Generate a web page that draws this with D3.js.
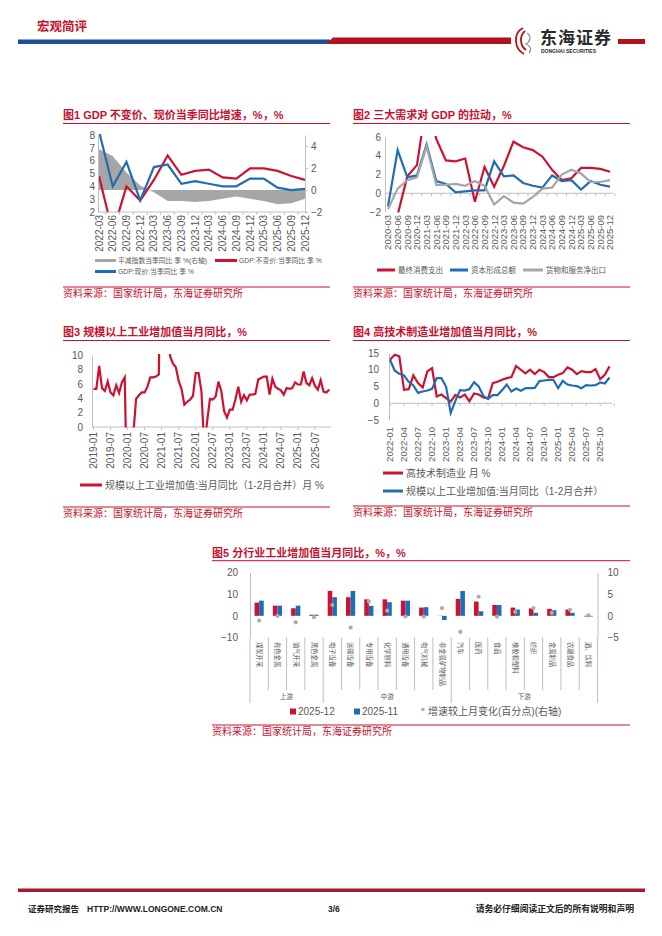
<!DOCTYPE html>
<html><head><meta charset="utf-8">
<script src="https://cdn.jsdelivr.net/npm/d3@7"></script>
<style>
body{margin:0;background:#fff;}
svg text{font-family:"Liberation Sans","Noto Sans CJK SC",Arial,sans-serif;}
</style></head><body>
<svg id="page" width="662" height="936"></svg>
<script>
// ---------------- DATA ----------------
const c1Quarters = ["2022-03","2022-06","2022-09","2022-12","2023-03","2023-06","2023-09","2023-12","2024-03","2024-06","2024-09","2024-12","2025-03","2025-06","2025-09","2025-12"];
const c1Deflator = [3.7, 3.1, 1.6, 0.4, -0.2, -1.0, -1.0, -1.1, -1.0, -0.8, -0.6, -0.8, -1.0, -1.3, -1.2, -0.8];
const c1Real     = [4.8, 0.4, 4.0, 2.9, 4.5, 6.4, 4.9, 5.2, 5.3, 4.7, 4.6, 5.4, 5.4, 5.2, 4.8, 4.5];
const c1Nominal  = [8.3, 4.0, 5.9, 2.9, 5.5, 5.7, 4.2, 4.4, 4.2, 4.0, 4.0, 4.6, 4.6, 3.9, 3.7, 3.8];
const c1LeftTicks = [2,3,4,5,6,7,8];
const c1RightTicks = [-2,0,2,4];

const c2Quarters = ["2020-03","2020-06","2020-09","2020-12","2021-03","2021-06","2021-09","2021-12","2022-03","2022-06","2022-09","2022-12","2023-03","2023-06","2023-09","2023-12","2024-03","2024-06","2024-09","2024-12","2025-03","2025-06","2025-09","2025-12"];
const c2Consumption = [-4.5, -2.3, 1.8, 3.0, 9.8, 5.8, 3.5, 3.4, 3.7, -0.9, 2.8, 0.7, 2.9, 5.5, 4.9, 4.6, 3.9, 2.5, 1.4, 1.6, 2.7, 2.7, 2.6, 2.3];
const c2Capital     = [-1.4, 4.6, 1.7, 1.9, 5.2, 1.3, 1.0, 0.1, 0.2, 0.3, 0.3, 3.4, 1.8, 1.9, 1.1, 0.8, 0.6, 1.9, 1.3, 1.4, 0.4, 1.3, 0.9, 0.7];
const c2NetExport   = [-1.7, 0.5, 1.4, 1.7, 5.0, 0.9, 0.9, 1.0, 0.8, 1.3, 0.8, -1.2, -0.3, -1.0, -1.1, -0.4, 0.5, 0.6, 2.0, 2.5, 2.1, 1.2, 1.2, 1.4];
const c2Ticks = [-2,0,2,4,6];

// monthly 2019-01 .. 2025-12
const c3Industry = [
  5.3, 5.3, 8.5, 5.4, 5.0, 6.3, 4.8, 4.4, 5.8, 4.7, 6.2, 6.9,
  -13.5, -13.5, -1.1, 3.9, 4.4, 4.8, 4.8, 5.6, 6.9, 6.9, 7.0, 7.3,
  35.1, 35.1, 14.1, 9.8, 8.8, 8.3, 6.4, 5.3, 3.1, 3.5, 3.8, 4.3,
  7.5, 7.5, 5.0, -2.9, 0.7, 3.9, 3.8, 4.2, 6.3, 5.0, 2.2, 1.3,
  2.4, 2.4, 3.9, 5.6, 3.5, 4.4, 3.7, 4.5, 4.5, 4.6, 6.6, 6.8,
  7.0, 7.0, 4.5, 6.7, 5.6, 5.3, 5.1, 4.5, 5.4, 5.3, 5.4, 6.2,
  5.9, 5.9, 7.7, 6.1, 5.8, 6.8, 5.7, 5.2, 6.5, 4.9, 4.8, 5.2];
const c3TickLabels = ["2019-01","2019-07","2020-01","2020-07","2021-01","2021-07","2022-01","2022-07","2023-01","2023-07","2024-01","2024-07","2025-01","2025-07"];
const c3Ticks = [0,2,4,6,8,10];

const c4TickLabels = ["2022-01","2022-04","2022-07","2022-10","2023-01","2023-04","2023-07","2023-10","2024-01","2024-04","2024-07","2024-10","2025-01","2025-04","2025-07","2025-10"];
const c4HighTech = [13, 14.5, 14, 4, 4.2, 8.3, 6, 4.7, 9.5, 10.5, 2, 2.6, 1.5, 0.5, 2.5, 1.7, 2.6, 0.6, 2.9, 2.6, 1.7, 1.4, 6, 6.4, 7, 7.5, 7.8, 11.1, 10, 8.9, 10, 8.7, 10, 9.3, 7.8, 7.8, 8.5, 9, 10.7, 10, 8.7, 9.6, 9.3, 9.3, 10.2, 7.2, 8.5, 11];
const c4Industry = [13, 9.8, 8.8, 8.3, 6.4, 5.3, 3.1, 3.5, 3.8, 4.3, 7.5, 7.5, 5.0, -2.9, 0.7, 3.9, 3.8, 4.2, 6.3, 5.0, 2.2, 1.3, 2.4, 2.4, 3.9, 5.6, 3.5, 4.4, 3.7, 4.5, 4.5, 4.6, 6.6, 6.8, 7.0, 7.0, 4.5, 6.7, 5.6, 5.3, 5.1, 4.5, 5.4, 5.3, 5.4, 6.2, 5.9, 7.7];
const c4Ticks = [-5,0,5,10,15];

const c5Industries = ["煤炭开采","有色金属","油气开采","黑色金属","电子设备","运输设备","专用设备","化学原料","通用设备","电气机械","非金属矿物制品","汽车","医药","食品","橡胶和塑料","纺织","金属制品","农副食品","酒、饮料"];
const c5Groups = [{name:"上游", from:0, to:3},{name:"中游", from:4, to:10},{name:"下游", from:11, to:18}];
const c5Dec = [6.1, 4.7, 3.5, 0.5, 11.5, 8.6, 7.6, 7.6, 7.0, 3.8, -0.1, 7.8, 6.6, 5.0, 3.8, 3.4, 3.2, 2.9, -0.3];
const c5Nov = [7.0, 4.7, 4.7, 0.5, 8.6, 11.5, 4.6, 6.3, 7.0, 4.0, -1.9, 11.5, 2.1, 5.0, 2.9, 1.4, 2.6, 1.4, -0.3];
const c5Change = [-1.1, 0.0, -1.5, -0.3, 2.5, -2.7, 3.3, 1.2, -0.15, -0.2, 1.8, -3.7, 4.4, -0.2, 0.9, 1.8, 0.7, 1.4, 0.1];
const c5LeftTicks = [-10,0,10,20];
const c5RightTicks = [-5,0,5,10];

// ---------------- STYLE ----------------
const TITLE_RED = "#C8102E";
const LINE_RED = "#CC1230";
const LINE_BLUE = "#1F6DB3";
const LINE_GRAY = "#A6A6A6";
const AXIS = "#BFBFBF";
const TXT = "#595959";
const SOURCE = "资料来源：国家统计局，东海证券研究所";
const fmt = d3.format("d");

const svg = d3.select("#page");
svg.append("rect").attr("width",662).attr("height",936).attr("fill","#fff");
const defs = svg.append("defs");

function addTitle(x, x2, yBase, yLine, txt){
  svg.append("text").attr("x",x).attr("y",yBase).attr("fill",TITLE_RED)
    .attr("font-size",11).attr("font-weight","bold").text(txt);
  svg.append("line").attr("x1",x).attr("x2",x2).attr("y1",yLine).attr("y2",yLine)
    .attr("stroke",TITLE_RED).attr("stroke-width",1);
}
function addSource(x, x2, yLine, yBase){
  svg.append("line").attr("x1",x).attr("x2",x2).attr("y1",yLine).attr("y2",yLine)
    .attr("stroke",TITLE_RED).attr("stroke-width",1);
  svg.append("text").attr("x",x).attr("y",yBase).attr("fill",TITLE_RED)
    .attr("font-size",10).text(SOURCE);
}
function styleAxis(sel, fs){
  sel.select(".domain").attr("stroke",AXIS);
  sel.selectAll(".tick line").attr("stroke",AXIS);
  sel.selectAll(".tick text").attr("fill",TXT).attr("font-size",fs||10)
    .attr("font-family",'"Liberation Sans",Arial,sans-serif');
}
function clip(id, x, y, w, h){
  defs.append("clipPath").attr("id",id).append("rect").attr("x",x).attr("y",y).attr("width",w).attr("height",h);
}
function legendLine(x1, x2, y, color, label, fs, tx){
  svg.append("line").attr("x1",x1).attr("x2",x2).attr("y1",y).attr("y2",y)
    .attr("stroke",color).attr("stroke-width",3);
  svg.append("text").attr("x",tx).attr("y",y).attr("dy","0.35em").attr("fill",TXT)
    .attr("font-size",fs).text(label);
}
function catTicks(g, positions, y, len){
  g.selectAll(null).data(positions).join("line")
    .attr("x1",d=>d).attr("x2",d=>d).attr("y1",y).attr("y2",y+len)
    .attr("stroke",AXIS);
}

// ---------------- HEADER ----------------
svg.append("text").attr("x",37).attr("y",31).attr("fill",TITLE_RED)
  .attr("font-size",12.5).attr("font-weight","bold").text("宏观简评");
svg.append("rect").attr("x",18).attr("y",39.5).attr("width",312).attr("height",4.5).attr("fill","#1D4F91");
svg.append("path").attr("d","M326,44 L333,37.5 L511,37.5 L511,44 Z").attr("fill","#B3121C");
svg.append("rect").attr("x",618).attr("y",39).attr("width",27).attr("height",5).attr("fill","#B3121C");
// logo
const logo = svg.append("g");
logo.append("path").attr("d","M523,28 C513,33 514,49 524,54 M525,31 C519,36 520,46 526,50")
  .attr("fill","none").attr("stroke","#B3121C").attr("stroke-width",1.8);
logo.append("path").attr("d","M527,33 C532,36 530,42 526,44 C531,46 532,50 529,53")
  .attr("fill","none").attr("stroke","#8C8C8C").attr("stroke-width",1.2);
logo.append("text").attr("x",540).attr("y",44).attr("font-size",17).attr("font-weight","bold")
  .attr("fill","#2B2B2B").attr("font-family",'"Noto Sans CJK SC",sans-serif').attr("letter-spacing",1).text("东海证券");
logo.append("text").attr("x",541).attr("y",52.5).attr("font-size",5).attr("font-weight","bold")
  .attr("fill","#2B2B2B").text("DONGHAI SECURITIES");

// ---------------- CHART 1 ----------------
addTitle(63, 330, 118.5, 123.5, "图1  GDP 不变价、现价当季同比增速，%，%");
{
  const x = d3.scalePoint().domain(c1Quarters).range([99,305]);
  const yL = d3.scaleLinear().domain([2,8]).range([212,135]);
  const yR = d3.scaleLinear().domain([-2,5]).range([212,135]);
  clip("clip1", 98, 134, 208, 78.5);
  const g = svg.append("g");
  const pl = g.append("g").attr("clip-path","url(#clip1)");
  pl.append("path").datum(c1Deflator)
    .attr("d", d3.area().x((d,i)=>x(c1Quarters[i])).y0(yR(0)).y1(d=>yR(d)))
    .attr("fill",LINE_GRAY);
  pl.append("path").datum(c1Real)
    .attr("d", d3.line().x((d,i)=>x(c1Quarters[i])).y(d=>yL(d)))
    .attr("fill","none").attr("stroke",LINE_RED).attr("stroke-width",2.2);
  pl.append("path").datum(c1Nominal)
    .attr("d", d3.line().x((d,i)=>x(c1Quarters[i])).y(d=>yL(d)))
    .attr("fill","none").attr("stroke",LINE_BLUE).attr("stroke-width",2.2);
  g.append("g").attr("transform","translate(98,0)")
    .call(d3.axisLeft(yL).tickValues(c1LeftTicks).tickFormat(fmt).tickSize(0).tickSizeOuter(0).tickPadding(3))
    .call(s=>styleAxis(s,10));
  g.append("g").attr("transform","translate(305,0)")
    .call(d3.axisRight(yR).tickValues(c1RightTicks).tickFormat(fmt).tickSize(3).tickSizeOuter(0).tickPadding(3))
    .call(s=>styleAxis(s,10));
  g.append("line").attr("x1",98).attr("x2",305).attr("y1",212).attr("y2",212).attr("stroke",AXIS);
  const step = x.step();
  catTicks(g, c1Quarters.slice(0,-1).map(q=>x(q)+step/2), 212, 3);
  g.selectAll(".xl").data(c1Quarters).join("text")
    .attr("transform", d=>`translate(${x(d)},215) rotate(-90)`)
    .attr("text-anchor","end").attr("dy","0.35em").attr("fill",TXT).attr("font-size",10).text(d=>d);
  legendLine(95,116,260.5,LINE_GRAY,"平减指数当季同比 季 %(右轴)",6.8,118);
  legendLine(215,237,260.5,LINE_RED,"GDP:不变价:当季同比 季 %",6.8,239);
  legendLine(95,116,271.5,LINE_BLUE,"GDP:现价:当季同比 季 %",6.8,118);
}
addSource(63, 330, 287, 297);

// ---------------- CHART 2 ----------------
addTitle(353, 630, 118.5, 123.5, "图2  三大需求对 GDP 的拉动，%");
{
  const x = d3.scalePoint().domain(c2Quarters).range([388,610]);
  const y = d3.scaleLinear().domain([-2,6]).range([212,137]);
  clip("clip2", 385, 136, 230, 76.5);
  const g = svg.append("g");
  g.append("g").attr("transform","translate(385,0)")
    .call(d3.axisLeft(y).tickValues(c2Ticks).tickFormat(fmt).tickSize(0).tickSizeOuter(0).tickPadding(4))
    .call(s=>styleAxis(s,10));
  g.append("line").attr("x1",385).attr("x2",613).attr("y1",y(0)).attr("y2",y(0)).attr("stroke",AXIS);
  const step = x.step();
  catTicks(g, c2Quarters.map(q=>x(q)+step/2), y(0), 3);
  const pl = g.append("g").attr("clip-path","url(#clip2)");
  [[c2Consumption,LINE_RED],[c2Capital,LINE_BLUE],[c2NetExport,LINE_GRAY]].forEach(([arr,col])=>{
    pl.append("path").datum(arr)
      .attr("d", d3.line().x((d,i)=>x(c2Quarters[i])).y(d=>y(d)))
      .attr("fill","none").attr("stroke",col).attr("stroke-width",2.2);
  });
  g.selectAll(".xl").data(c2Quarters).join("text")
    .attr("transform", d=>`translate(${x(d)},215) rotate(-90)`)
    .attr("text-anchor","end").attr("dy","0.35em").attr("fill",TXT).attr("font-size",9.5).text(d=>d);
  legendLine(377,395,270,LINE_RED,"最终消费支出",7.5,398);
  legendLine(450,468,270,LINE_BLUE,"资本形成总额",7.5,471);
  legendLine(523,543,270,LINE_GRAY,"货物和服务净出口",7.5,546);
}
addSource(353, 630, 287, 297);

// ---------------- CHART 3 ----------------
addTitle(63, 330, 335.5, 340.5, "图3  规模以上工业增加值当月同比，%");
{
  const x = d3.scaleLinear().domain([0, c3Industry.length-1]).range([93.5, 329.2]);
  const y = d3.scaleLinear().domain([0,10]).range([427,355]);
  clip("clip3", 92, 354, 240, 73.5);
  const g = svg.append("g");
  g.append("g").attr("transform","translate(92,0)")
    .call(d3.axisLeft(y).tickValues(c3Ticks).tickFormat(fmt).tickSize(0).tickSizeOuter(0).tickPadding(9))
    .call(s=>styleAxis(s,10));
  g.append("line").attr("x1",92).attr("x2",331).attr("y1",427).attr("y2",427).attr("stroke",AXIS);
  const tickIdx = c3TickLabels.map((d,i)=>i*6);
  catTicks(g, tickIdx.map(i=>x(i)), 427, 3);
  g.append("path").attr("clip-path","url(#clip3)").datum(c3Industry)
    .attr("d", d3.line().x((d,i)=>x(i)).y(d=>y(d)))
    .attr("fill","none").attr("stroke",LINE_RED).attr("stroke-width",2.2);
  g.selectAll(".xl").data(c3TickLabels).join("text")
    .attr("transform", (d,i)=>`translate(${x(tickIdx[i])},432) rotate(-90)`)
    .attr("text-anchor","end").attr("dy","0.35em").attr("fill",TXT).attr("font-size",10).text(d=>d);
  legendLine(80,102,485,LINE_RED,"规模以上工业增加值:当月同比（1-2月合并）月 %",10,105);
}
addSource(63, 330, 507, 517);

// ---------------- CHART 4 ----------------
addTitle(353, 630, 335.5, 340.5, "图4  高技术制造业增加值当月同比，%");
{
  const x = d3.scaleLinear().domain([0, c4HighTech.length-1]).range([390, 609.5]);
  const y = d3.scaleLinear().domain([-5,15]).range([420,353]);
  const g = svg.append("g");
  g.append("g").attr("transform","translate(389,0)")
    .call(d3.axisLeft(y).tickValues(c4Ticks).tickFormat(fmt).tickSize(0).tickSizeOuter(0).tickPadding(10))
    .call(s=>styleAxis(s,10));
  g.append("line").attr("x1",389).attr("x2",612).attr("y1",y(0)).attr("y2",y(0)).attr("stroke",AXIS);
  const tickIdx = c4TickLabels.map((d,i)=>i*3);
  catTicks(g, d3.range(0,c4HighTech.length+1,3).map(i=>x(i)), y(0), 3);
  g.append("path").datum(c4HighTech)
    .attr("d", d3.line().x((d,i)=>x(i)).y(d=>y(d)))
    .attr("fill","none").attr("stroke",LINE_RED).attr("stroke-width",2.2);
  g.append("path").datum(c4Industry)
    .attr("d", d3.line().x((d,i)=>x(i)).y(d=>y(d)))
    .attr("fill","none").attr("stroke",LINE_BLUE).attr("stroke-width",2.2);
  g.selectAll(".xl").data(c4TickLabels).join("text")
    .attr("transform", (d,i)=>`translate(${x(tickIdx[i])},427) rotate(-90)`)
    .attr("text-anchor","end").attr("dy","0.35em").attr("fill",TXT).attr("font-size",9.5).text(d=>d);
  legendLine(383,403,473,LINE_RED,"高技术制造业 月 %",10,406);
  legendLine(383,403,491,LINE_BLUE,"规模以上工业增加值:当月同比（1-2月合并）",10,406);
}
addSource(353, 630, 506, 516);

// ---------------- CHART 5 ----------------
addTitle(212, 630, 556.5, 560.7, "图5  分行业工业增加值当月同比，%，%");
{
  const x = d3.scaleBand().domain(c5Industries).range([250, 597.5]).padding(0);
  const yL = d3.scaleLinear().domain([-10,20]).range([637.5,572.5]);
  const yR = d3.scaleLinear().domain([-5,10]).range([637.5,572.5]);
  const g = svg.append("g");
  g.append("g").attr("transform","translate(250,0)")
    .call(d3.axisLeft(yL).tickValues(c5LeftTicks).tickFormat(fmt).tickSize(0).tickSizeOuter(0).tickPadding(12))
    .call(s=>styleAxis(s,10));
  g.append("g").attr("transform","translate(597.5,0)")
    .call(d3.axisRight(yR).tickValues(c5RightTicks).tickFormat(fmt).tickSize(0).tickSizeOuter(0).tickPadding(10))
    .call(s=>styleAxis(s,10));
  g.append("line").attr("x1",250).attr("x2",250).attr("y1",637.5).attr("y2",703).attr("stroke",AXIS);
  g.append("line").attr("x1",597.5).attr("x2",597.5).attr("y1",637.5).attr("y2",703).attr("stroke",AXIS);
  const bw = x.bandwidth();
  const boundaries = c5Industries.slice(1).map(c=>x(c));
  const groupBounds = c5Groups.slice(1).map(gr=>x(c5Industries[gr.from]));
  g.selectAll(null).data(boundaries).join("line")
    .attr("x1",d=>d).attr("x2",d=>d).attr("y1",637.5)
    .attr("y2",d=>groupBounds.some(b=>Math.abs(b-d)<0.1)?703:690).attr("stroke",AXIS);
  const barW = 4.6;
  g.selectAll(".rb").data(c5Dec).join("rect")
    .attr("x",(d,i)=>x(c5Industries[i])+bw/2-barW).attr("width",barW)
    .attr("y",d=>Math.min(yL(d),yL(0))).attr("height",d=>Math.abs(yL(d)-yL(0)))
    .attr("fill",LINE_RED);
  g.selectAll(".bb").data(c5Nov).join("rect")
    .attr("x",(d,i)=>x(c5Industries[i])+bw/2).attr("width",barW)
    .attr("y",d=>Math.min(yL(d),yL(0))).attr("height",d=>Math.abs(yL(d)-yL(0)))
    .attr("fill",LINE_BLUE);
  g.selectAll(".dt").data(c5Change).join("circle")
    .attr("cx",(d,i)=>x(c5Industries[i])+bw/2).attr("cy",d=>yR(d)).attr("r",2.1)
    .attr("fill","#ABABAB");
  g.selectAll(".cl").data(c5Industries).join("text")
    .attr("transform",d=>`translate(${x(d)+bw/2},642) rotate(90)`)
    .attr("text-anchor","start").attr("dy","0.35em").attr("fill",TXT).attr("font-size",6.3)
    .attr("font-family",'"Noto Sans CJK SC",sans-serif').text(d=>d);
  g.selectAll(".gl").data(c5Groups).join("text")
    .attr("x",d=>(x(c5Industries[d.from])+x(c5Industries[d.to])+bw)/2).attr("y",697)
    .attr("dy","0.35em").attr("text-anchor","middle").attr("fill",TXT).attr("font-size",6.5).text(d=>d.name);
  svg.append("rect").attr("x",290).attr("y",708.5).attr("width",6).attr("height",6).attr("fill",LINE_RED);
  svg.append("text").attr("x",298).attr("y",711.7).attr("dy","0.35em").attr("fill",TXT).attr("font-size",10).text("2025-12");
  svg.append("rect").attr("x",354).attr("y",708.5).attr("width",6).attr("height",6).attr("fill",LINE_BLUE);
  svg.append("text").attr("x",362).attr("y",711.7).attr("dy","0.35em").attr("fill",TXT).attr("font-size",10).text("2025-11");
  svg.append("circle").attr("cx",423).attr("cy",709.5).attr("r",1.8).attr("fill","#ABABAB");
  svg.append("text").attr("x",428).attr("y",711.7).attr("dy","0.35em").attr("fill",TXT).attr("font-size",10).text("增速较上月变化(百分点)(右轴)");
}
addSource(212, 630, 725, 735);

// ---------------- FOOTER ----------------
svg.append("rect").attr("x",18).attr("y",888.5).attr("width",627).attr("height",3.5).attr("fill","#A6192E");
svg.append("text").attr("x",28).attr("y",912).attr("font-size",8.5).attr("font-weight","bold").attr("fill","#222").text("证券研究报告");
svg.append("text").attr("x",87).attr("y",912).attr("font-size",8.5).attr("font-weight","bold").attr("fill","#222").text("HTTP://WWW.LONGONE.COM.CN");
svg.append("text").attr("x",328).attr("y",912).attr("font-size",8.5).attr("font-weight","bold").attr("fill","#222").text("3/6");
svg.append("text").attr("x",634).attr("y",912).attr("text-anchor","end").attr("font-size",8.8).attr("font-weight","bold").attr("fill","#222").text("请务必仔细阅读正文后的所有说明和声明");
</script>
</body></html>
